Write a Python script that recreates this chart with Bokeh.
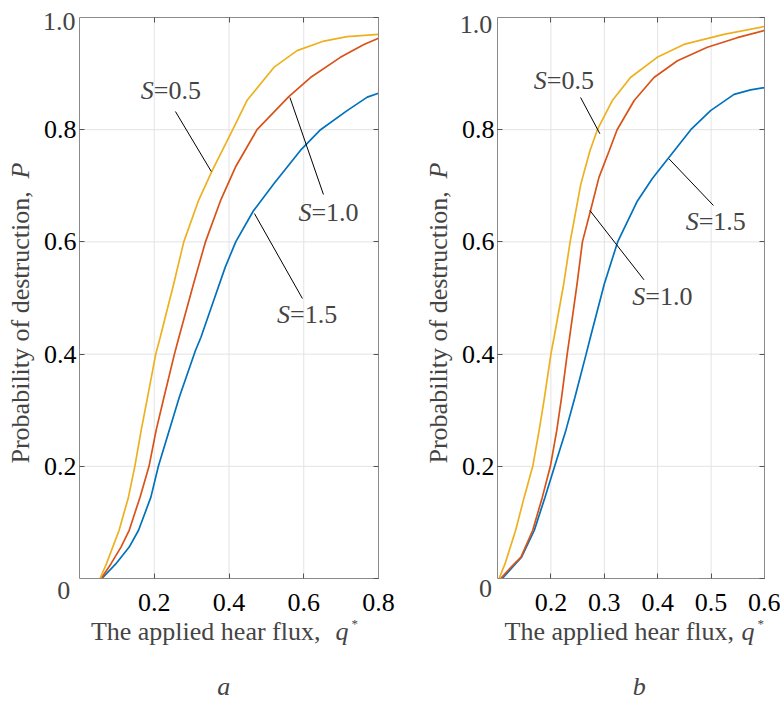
import math
from bokeh.plotting import figure
from bokeh.layouts import row
from bokeh.models import (Range1d, FixedTicker, PrintfTickFormatter, LinearAxis,
                          CustomJSTickFormatter, Label)
from bokeh.embed import file_html
from bokeh.resources import INLINE

# ---------------- data ----------------
# panel a
a_q_s05 = [0.055, 0.072, 0.106, 0.131, 0.148, 0.165, 0.182, 0.204, 0.216, 0.252,
           0.279, 0.318, 0.355, 0.41, 0.448, 0.52, 0.582, 0.654, 0.716, 0.80]
a_p_s05 = [0.0, 0.026, 0.086, 0.145, 0.2, 0.264, 0.323, 0.4, 0.43, 0.525,
           0.6, 0.673, 0.727, 0.8, 0.852, 0.911, 0.941, 0.958, 0.966, 0.970]
a_q_s10 = [0.058, 0.084, 0.111, 0.133, 0.162, 0.186, 0.205, 0.226, 0.254, 0.266,
           0.305, 0.337, 0.377, 0.417, 0.475, 0.56, 0.618, 0.698, 0.761, 0.80]
a_p_s10 = [0.0, 0.026, 0.056, 0.086, 0.145, 0.2, 0.264, 0.323, 0.4, 0.43,
           0.525, 0.6, 0.673, 0.733, 0.8, 0.859, 0.893, 0.929, 0.952, 0.963]
a_q_s15 = [0.06, 0.097, 0.133, 0.158, 0.191, 0.211, 0.24, 0.267, 0.31, 0.325,
           0.359, 0.39, 0.418, 0.465, 0.52, 0.591, 0.645, 0.716, 0.77, 0.80]
a_p_s15 = [0.0, 0.026, 0.056, 0.086, 0.145, 0.2, 0.264, 0.323, 0.406, 0.43,
           0.4955, 0.555, 0.6, 0.655, 0.7036, 0.763, 0.8, 0.834, 0.858, 0.865]

# panel b
b_q_s05 = [0.103, 0.114, 0.134, 0.150, 0.166, 0.178, 0.188, 0.20, 0.206, 0.224,
           0.236, 0.256, 0.273, 0.287, 0.315, 0.349, 0.399, 0.449, 0.524, 0.60]
b_p_s05 = [0.0, 0.026, 0.086, 0.145, 0.2, 0.264, 0.323, 0.4, 0.43, 0.525,
           0.6, 0.703, 0.762, 0.8, 0.852, 0.893, 0.929, 0.952, 0.970, 0.984]
b_q_s10 = [0.106, 0.125, 0.144, 0.166, 0.184, 0.199, 0.211, 0.220, 0.2305, 0.235,
           0.249, 0.259, 0.274, 0.29, 0.309, 0.324, 0.356, 0.393, 0.437, 0.493, 0.549, 0.60]
b_p_s10 = [0.0, 0.02, 0.038, 0.086, 0.145, 0.2, 0.264, 0.323, 0.4, 0.43,
           0.525, 0.6, 0.655, 0.715, 0.762, 0.8, 0.852, 0.893, 0.923, 0.947, 0.964, 0.977]
b_q_s15 = [0.109, 0.128, 0.145, 0.169, 0.189, 0.207, 0.228, 0.245, 0.266, 0.274,
           0.30, 0.325, 0.362, 0.39, 0.418, 0.462, 0.499, 0.543, 0.574, 0.60]
b_p_s15 = [0.0, 0.02, 0.038, 0.086, 0.145, 0.2, 0.264, 0.323, 0.4, 0.43,
           0.525, 0.6, 0.673, 0.713, 0.747, 0.8, 0.834, 0.863, 0.871, 0.875]

a_xlim = (0.0, 0.8)
b_xlim = (0.1, 0.6)
ylim = (0.0, 1.0)
a_xticks = [0.2, 0.4, 0.6, 0.8]
b_xticks = [0.2, 0.3, 0.4, 0.5, 0.6]
y_ticks = [0.2, 0.4, 0.6, 0.8]
y_all_ticks = [0.0, 0.2, 0.4, 0.6, 0.8, 1.0]
s_labels = ["=0.5", "=1.0", "=1.5"]

BLUE = "#0072BD"
RED = "#D95319"
YELLOW = "#EDB120"
FONT = "Liberation Serif"
FS = "26px"
AXIS_GREY = "#8a8a8a"
TICK_GREY = "#555555"
GRID_GREY = "#e3e3e3"

H = 702
BOX_TOP, BOX_BOTTOM = 17, 578


def make_panel(width, box_l, box_r, xlim, xticks, series, ann, L):
    # plot box placed inside a full-canvas frame: ranges chosen so that
    # xlim/ylim fall on the box edges
    kx = (xlim[1] - xlim[0]) / (box_r - box_l)
    ky = (ylim[1] - ylim[0]) / (BOX_BOTTOM - BOX_TOP)
    xr = Range1d(xlim[0] - box_l * kx, xlim[1] + (width - box_r) * kx)
    yr = Range1d(ylim[0] - (H - BOX_BOTTOM) * ky, ylim[1] + BOX_TOP * ky)

    p = figure(width=width, height=H, x_range=xr, y_range=yr,
               x_axis_type=None, y_axis_type=None,
               output_backend="svg", toolbar_location=None,
               min_border=0)
    p.outline_line_color = None
    p.background_fill_color = "white"
    p.border_fill_color = "white"
    for g in p.grid:
        g.visible = False

    # grid lines inside the box
    p.segment(x0=xticks, y0=[ylim[0]] * len(xticks), x1=xticks,
              y1=[ylim[1]] * len(xticks), line_color=GRID_GREY, line_width=1)
    p.segment(x0=[xlim[0]] * len(y_ticks), y0=y_ticks, x1=[xlim[1]] * len(y_ticks),
              y1=y_ticks, line_color=GRID_GREY, line_width=1)

    def style(ax):
        ax.major_tick_in = 5
        ax.major_tick_out = 0
        ax.major_tick_line_color = TICK_GREY
        ax.minor_tick_line_color = None
        ax.axis_line_color = AXIS_GREY
        ax.axis_line_width = 1
        return ax

    bottom = style(LinearAxis(fixed_location=ylim[0], bounds=xlim,
                              ticker=FixedTicker(ticks=xticks),
                              formatter=PrintfTickFormatter(format="%.1f"),
                              major_label_text_font=FONT, major_label_text_font_size=FS,
                              major_label_text_color="black", major_label_standoff=15))
    left = style(LinearAxis(fixed_location=xlim[0], bounds=ylim,
                            ticker=FixedTicker(ticks=y_ticks),
                            formatter=PrintfTickFormatter(format="%.1f"),
                            major_label_text_font=FONT, major_label_text_font_size=FS,
                            major_label_text_color="black", major_label_standoff=3))
    top = style(LinearAxis(fixed_location=ylim[1], bounds=xlim,
                           ticker=FixedTicker(ticks=xticks),
                           formatter=CustomJSTickFormatter(code="return ''"),
                           major_label_text_font_size="0px", major_label_standoff=0))
    right = style(LinearAxis(fixed_location=xlim[1], bounds=ylim,
                             ticker=FixedTicker(ticks=y_all_ticks),
                             formatter=CustomJSTickFormatter(code="return ''"),
                             major_label_text_font_size="0px", major_label_standoff=0))
    p.add_layout(bottom, "below")
    p.add_layout(left, "left")
    p.add_layout(top, "above")
    p.add_layout(right, "right")

    for (q, P, c) in series:
        p.line(q, P, line_color=c, line_width=1.7)

    # curve annotations: S (italic) + "=value", with leader lines
    for (jx, jy, x0, y0, x1, y1), txt in zip(ann, s_labels):
        p.segment(x0=[x0], y0=[y0], x1=[x1], y1=[y1], line_color="black", line_width=1)
        p.add_layout(Label(x=jx, y=jy, text="S", text_font=FONT, text_font_size=FS,
                           text_font_style="italic", text_align="right",
                           text_baseline="alphabetic"))
        p.add_layout(Label(x=jx, y=jy, text=txt, text_font=FONT, text_font_size=FS,
                           text_align="left", text_baseline="alphabetic"))

    # y label
    p.add_layout(Label(x=L["ylx"], y=0.205, text="Probability of destruction,",
                       angle=math.pi / 2, text_font=FONT, text_font_size=FS,
                       text_align="left", text_baseline="alphabetic"))
    p.add_layout(Label(x=L["ylx"], y=0.713, text="P", angle=math.pi / 2,
                       text_font=FONT, text_font_size=FS, text_font_style="italic",
                       text_align="left", text_baseline="alphabetic"))
    # x label
    p.add_layout(Label(x=L["xlx"], y=-0.0945, text="The applied hear flux,",
                       text_font=FONT, text_font_size=FS, text_align="left",
                       text_baseline="alphabetic"))
    p.add_layout(Label(x=L["qx"], y=-0.0945, text="q", text_font=FONT,
                       text_font_size=FS, text_font_style="italic",
                       text_align="right", text_baseline="alphabetic"))
    p.add_layout(Label(x=L["sx"], y=-0.0803, text="*", text_font=FONT,
                       text_font_size="13px", text_align="left",
                       text_baseline="alphabetic"))
    # corner 0 and top 1.0
    p.add_layout(Label(x=L["zx"], y=L["zy"], text="0", text_font=FONT,
                       text_font_size=FS, text_align="center",
                       text_baseline="alphabetic"))
    p.add_layout(Label(x=L["onex"], y=L["oney"], text="1.0", text_font=FONT,
                       text_font_size=FS, text_align="right",
                       text_baseline="alphabetic"))
    # panel caption
    p.add_layout(Label(x=L["cx"], y=-0.1925, text=L["cap"], text_font=FONT,
                       text_font_size=FS, text_font_style="italic",
                       text_align="center", text_baseline="alphabetic"))
    return p


pa = make_panel(
    405, 79, 378, a_xlim, a_xticks,
    [(a_q_s15, a_p_s15, BLUE), (a_q_s10, a_p_s10, RED), (a_q_s05, a_p_s05, YELLOW)],
    [(0.1987, 0.870, 0.2567, 0.8324, 0.3526, 0.7255),
     (0.6205, 0.653, 0.563, 0.8574, 0.6527, 0.6845),
     (0.5635, 0.4705, 0.468, 0.6506, 0.5964, 0.4991)],
    dict(ylx=-0.1588, xlx=0.0305, qx=0.7196, sx=0.7276, zx=-0.0423, zy=-0.0214,
         onex=-0.0107, oney=0.9928, cx=0.3862, cap="a"))

pb = make_panel(
    375, 92, 359, b_xlim, b_xticks,
    [(b_q_s15, b_p_s15, BLUE), (b_q_s10, b_p_s10, RED), (b_q_s05, b_p_s05, YELLOW)],
    [(0.1924, 0.888, 0.2556, 0.8574, 0.2918, 0.7927),
     (0.3769, 0.502, 0.273, 0.656, 0.3743, 0.5324),
     (0.4768, 0.637, 0.4212, 0.748, 0.5044, 0.6649)],
    dict(ylx=-0.0106, xlx=0.1131, qx=0.5813, sx=0.5869, zx=0.0775, zy=-0.0179,
         onex=0.0901, oney=0.9875, cx=0.3653, cap="b"))

layout = row(pa, pb)
open("out.html", "w").write(file_html(layout, INLINE))
